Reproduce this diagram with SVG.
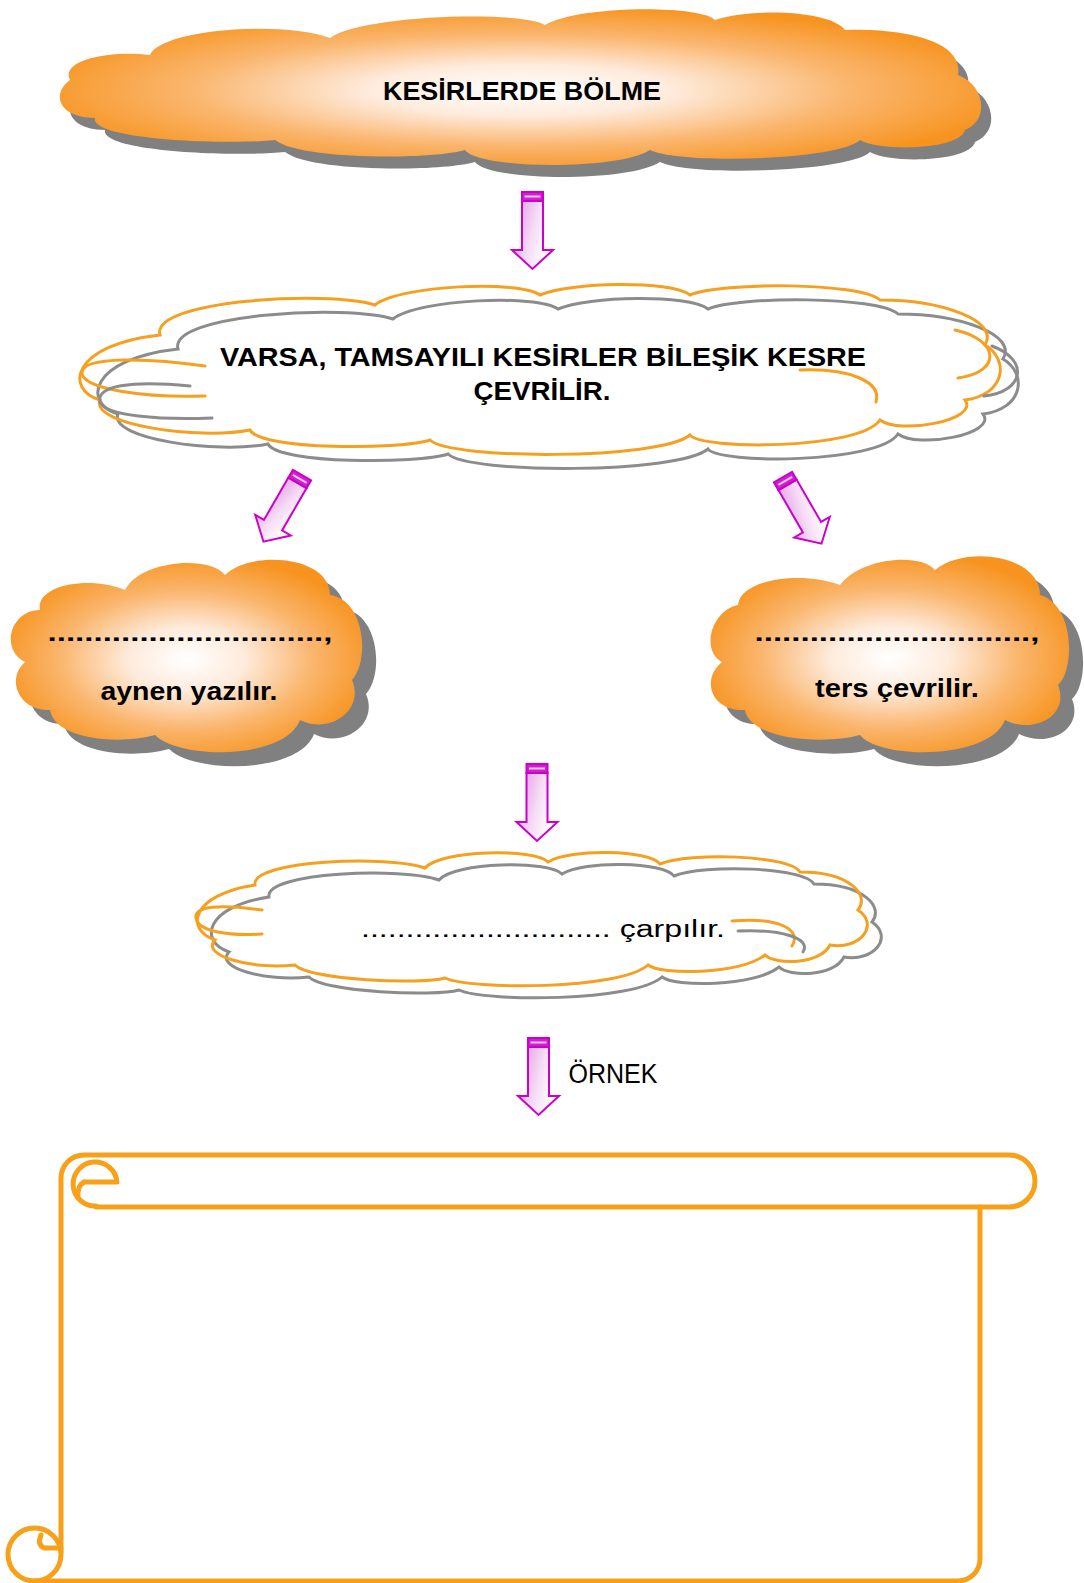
<svg xmlns="http://www.w3.org/2000/svg" width="1084" height="1583" viewBox="0 0 1084 1583">
  <defs>
    <radialGradient id="cloudFill" cx="0.5" cy="0.52" r="0.55">
      <stop offset="0" stop-color="#FFFFFF"/>
      <stop offset="0.3" stop-color="#FEEBDC"/>
      <stop offset="0.65" stop-color="#FAB66E"/>
      <stop offset="1" stop-color="#F7931E"/>
    </radialGradient>
    <linearGradient id="arrowFill" x1="0" y1="0" x2="1" y2="0.4">
      <stop offset="0" stop-color="#DE8EE0"/>
      <stop offset="0.6" stop-color="#F6DDF6"/>
      <stop offset="1" stop-color="#FFFFFF"/>
    </linearGradient>
    <!-- block arrow, origin at top centre, pointing down -->
    <g id="blockArrow">
      <path d="M -10.5 9 V 58 H -20.5 L 0 77 L 20.5 58 H 10.5 V 9 Z" fill="url(#arrowFill)" stroke="#CC00CC" stroke-width="2" stroke-linejoin="miter"/>
      <rect x="-10.5" y="0" width="21" height="9" fill="#CC22CC" stroke="#CC00CC" stroke-width="2"/>
      <rect x="-8" y="3.5" width="16" height="2" fill="#F6C6F6"/>
    </g>
  </defs>
  <style>
    .shadow { fill: #808080; }
    .solid { fill: url(#cloudFill); }
    .lineO { fill: none; stroke: #F5A020; stroke-width: 3; stroke-linecap: round; }
    .lineG { fill: none; stroke: #8C8C8C; stroke-width: 3; stroke-linecap: round; }
    .label { font-family: "Liberation Sans", "DejaVu Sans", sans-serif; fill: #000; text-anchor: middle; }
    .b { font-weight: bold; }
    .scroll { fill: none; stroke: #F7A11A; stroke-width: 5; stroke-linecap: round; stroke-linejoin: round; }
  </style>
  <rect width="1084" height="1583" fill="#FFFFFF"/>

  <!-- title cloud -->
  <g id="node-title">
    <path class="shadow" transform="translate(10,12)" d="M 70 80 C 60 60, 110 50, 150 55 C 160 30, 280 20, 330 38 C 360 15, 520 10, 545 25 C 580 5, 700 5, 715 20 C 750 8, 830 10, 845 30 C 900 28, 965 40, 958 75 C 985 85, 990 120, 965 130 C 960 150, 880 152, 860 140 C 840 160, 680 165, 650 150 C 620 170, 480 170, 465 150 C 430 160, 300 160, 275 140 C 230 145, 90 140, 95 118 C 60 118, 50 95, 70 80 Z"/>
    <path class="solid" d="M 70 80 C 60 60, 110 50, 150 55 C 160 30, 280 20, 330 38 C 360 15, 520 10, 545 25 C 580 5, 700 5, 715 20 C 750 8, 830 10, 845 30 C 900 28, 965 40, 958 75 C 985 85, 990 120, 965 130 C 960 150, 880 152, 860 140 C 840 160, 680 165, 650 150 C 620 170, 480 170, 465 150 C 430 160, 300 160, 275 140 C 230 145, 90 140, 95 118 C 60 118, 50 95, 70 80 Z"/>
    <text class="label b" x="522" y="100" font-size="26" textLength="278" lengthAdjust="spacingAndGlyphs">KESİRLERDE BÖLME</text>
  </g>

  <!-- rule cloud -->
  <g id="node-rule">
    <path class="lineG" transform="translate(18,14)" d="M 160 335 C 150 300, 330 290, 375 305 C 400 285, 520 280, 540 295 C 570 282, 670 280, 690 295 C 720 282, 860 282, 880 300 C 940 300, 1000 320, 985 345 C 1010 360, 1005 395, 965 400 C 980 420, 900 435, 880 420 C 860 450, 700 450, 690 435 C 660 460, 450 460, 430 440 C 400 450, 260 450, 250 430 C 200 440, 90 425, 100 400 C 65 390, 70 345, 160 335 Z"/>
    <path class="lineO" d="M 160 335 C 150 300, 330 290, 375 305 C 400 285, 520 280, 540 295 C 570 282, 670 280, 690 295 C 720 282, 860 282, 880 300 C 940 300, 1000 320, 985 345 C 1010 360, 1005 395, 965 400 C 980 420, 900 435, 880 420 C 860 450, 700 450, 690 435 C 660 460, 450 460, 430 440 C 400 450, 260 450, 250 430 C 200 440, 90 425, 100 400 C 65 390, 70 345, 160 335 Z"/>
    <path class="lineO" d="M 205 366 C 150 358, 84 356, 82 372 C 80 390, 150 398, 205 396"/>
    <path class="lineG" d="M 190 386 C 130 380, 96 386, 100 402 C 105 416, 160 420, 212 418"/>
    <path class="lineO" d="M 800 370 C 850 368, 882 382, 876 402"/>
    <path class="lineO" d="M 955 330 C 1000 340, 1002 372, 958 378"/>
    <path class="lineG" d="M 992 346 C 1030 360, 1024 392, 984 396"/>
    <text class="label b" x="543" y="366" font-size="26" textLength="646" lengthAdjust="spacingAndGlyphs">VARSA, TAMSAYILI KESİRLER BİLEŞİK KESRE</text>
    <text class="label b" x="542" y="400" font-size="26" textLength="137" lengthAdjust="spacingAndGlyphs">ÇEVRİLİR.</text>
  </g>

  <!-- left cloud -->
  <g id="node-left">
    <path class="shadow" transform="translate(14,14)" d="M 40 610 C 35 585, 90 575, 125 590 C 140 560, 210 555, 225 575 C 250 550, 330 555, 330 595 C 365 600, 370 660, 352 680 C 365 710, 330 735, 300 720 C 285 760, 180 760, 155 735 C 120 745, 55 740, 50 710 C 20 712, 5 680, 25 662 C 0 650, 10 610, 40 610 Z"/>
    <path class="solid" d="M 40 610 C 35 585, 90 575, 125 590 C 140 560, 210 555, 225 575 C 250 550, 330 555, 330 595 C 365 600, 370 660, 352 680 C 365 710, 330 735, 300 720 C 285 760, 180 760, 155 735 C 120 745, 55 740, 50 710 C 20 712, 5 680, 25 662 C 0 650, 10 610, 40 610 Z"/>
    <text class="label b" x="190" y="641" font-size="24" textLength="285" lengthAdjust="spacingAndGlyphs">..............................,</text>
    <text class="label b" x="189" y="700" font-size="25" textLength="177" lengthAdjust="spacingAndGlyphs">aynen yazılır.</text>
  </g>

  <!-- right cloud -->
  <g id="node-right">
    <path class="shadow" transform="translate(14,14)" d="M 738 605 C 740 580, 800 570, 840 585 C 860 558, 920 552, 935 570 C 965 545, 1040 555, 1040 595 C 1075 605, 1075 670, 1058 685 C 1070 715, 1035 735, 1005 720 C 990 760, 880 760, 860 735 C 825 745, 750 740, 745 710 C 712 712, 700 680, 722 662 C 700 650, 712 610, 738 605 Z"/>
    <path class="solid" d="M 738 605 C 740 580, 800 570, 840 585 C 860 558, 920 552, 935 570 C 965 545, 1040 555, 1040 595 C 1075 605, 1075 670, 1058 685 C 1070 715, 1035 735, 1005 720 C 990 760, 880 760, 860 735 C 825 745, 750 740, 745 710 C 712 712, 700 680, 722 662 C 700 650, 712 610, 738 605 Z"/>
    <text class="label b" x="897" y="641" font-size="24" textLength="285" lengthAdjust="spacingAndGlyphs">..............................,</text>
    <text class="label b" x="897" y="697" font-size="25" textLength="164" lengthAdjust="spacingAndGlyphs">ters çevrilir.</text>
  </g>

  <!-- multiply cloud -->
  <g id="node-multiply">
    <path class="lineG" transform="translate(14,12)" d="M 255 885 C 250 860, 390 855, 425 868 C 440 850, 535 848, 548 862 C 570 848, 650 850, 660 864 C 690 852, 790 855, 800 872 C 850 872, 870 895, 858 910 C 880 925, 860 950, 830 945 C 820 965, 775 965, 765 955 C 740 975, 660 975, 648 965 C 620 990, 470 990, 445 978 C 420 985, 310 980, 295 965 C 250 970, 200 955, 215 940 C 185 930, 190 895, 255 885 Z"/>
    <path class="lineO" d="M 255 885 C 250 860, 390 855, 425 868 C 440 850, 535 848, 548 862 C 570 848, 650 850, 660 864 C 690 852, 790 855, 800 872 C 850 872, 870 895, 858 910 C 880 925, 860 950, 830 945 C 820 965, 775 965, 765 955 C 740 975, 660 975, 648 965 C 620 990, 470 990, 445 978 C 420 985, 310 980, 295 965 C 250 970, 200 955, 215 940 C 185 930, 190 895, 255 885 Z"/>
    <path class="lineO" d="M 262 910 C 220 904, 194 906, 196 918 C 198 932, 230 936, 262 934"/>
    <path class="lineO" d="M 732 921 C 780 917, 802 930, 792 946"/>
    <path class="lineG" d="M 738 931 C 780 929, 812 938, 803 952"/>
    <text class="label" x="543" y="937" font-size="23" textLength="364" lengthAdjust="spacingAndGlyphs">............................ çarpılır.</text>
  </g>

  <!-- example scroll -->
  <g id="node-example">
    <path class="scroll" d="M 61 1552 V 1178 A 23 23 0 0 1 84 1155 H 1009 A 26 26 0 0 1 1009 1207 H 96"/>
    <path class="scroll" d="M 84 1182 H 117 A 22 22 0 1 0 96 1206"/>
    <path class="scroll" d="M 84 1182 Q 77 1186 78 1197"/>
    <path class="scroll" d="M 980 1207 V 1559 A 22 22 0 0 1 958 1581 H 35"/>
    <circle class="scroll" cx="34.5" cy="1554.5" r="26.5"/>
    <path class="scroll" d="M 61 1548 H 44 Q 37 1545 41 1535"/>
  </g>

  <!-- connectors -->
  <g id="connectors">
    <use href="#blockArrow" transform="translate(532.5,192)"/>
    <use href="#blockArrow" transform="translate(302,475) rotate(30)"/>
    <use href="#blockArrow" transform="translate(783,477) rotate(-30)"/>
    <use href="#blockArrow" transform="translate(537,764)"/>
    <use href="#blockArrow" transform="translate(538.5,1038)"/>
    <text class="label" x="613" y="1083" font-size="27" textLength="89" lengthAdjust="spacingAndGlyphs">ÖRNEK</text>
  </g>
</svg>
